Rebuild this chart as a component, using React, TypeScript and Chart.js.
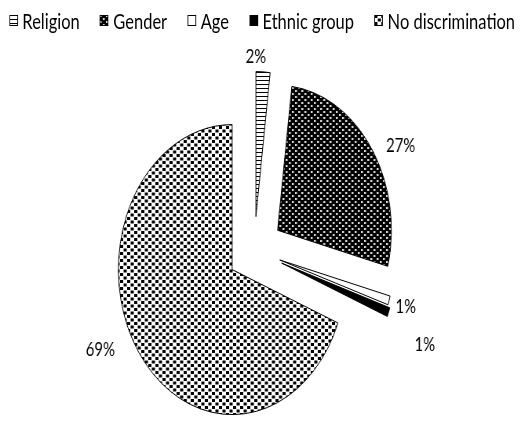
import { useEffect, useRef } from 'react';
import { Chart, registerables } from 'chart.js';

Chart.register(...registerables);

const CATEGORIES = ['Religion', 'Gender', 'Age', 'Ethnic group', 'No discrimination'];
const SHARES = [2, 27, 1, 1, 69];

// the whole figure is drawn on a wider canvas and condensed horizontally to the page width
const DRAW_W = 664;
const DRAW_H = 421;
const SQUEEZE = 521 / DRAW_W;

// how far each slice is pulled away from the pie centre (px)
const EXPLODE = [34, 36, 34, 37, 34];
// data label placement: distance beyond the rim (px) and turn off the slice bisector (deg)
const LABEL_GAP = [15, 33, 22, 55, 41];
const LABEL_TURN = [-3.6, 6, 0, 4.3, 8.8];

const FONT = "Lato, 'Liberation Sans', sans-serif";

type Fill = string | CanvasPattern;

function makePattern(ctx: CanvasRenderingContext2D, w: number, h: number, paint: (g: CanvasRenderingContext2D) => void) {
  const c = document.createElement('canvas');
  c.width = w;
  c.height = h;
  const g = c.getContext('2d') as CanvasRenderingContext2D;
  paint(g);
  return ctx.createPattern(c, 'repeat') as CanvasPattern;
}

// fills in category order: horizontal stripes, dark dotted, white, black, light confetti
function buildFills(ctx: CanvasRenderingContext2D): Fill[] {
  const stripes = makePattern(ctx, 4, 4, (g) => {
    g.fillStyle = '#fff';
    g.fillRect(0, 0, 4, 4);
    g.fillStyle = '#000';
    g.fillRect(0, 0, 4, 1);
  });
  const darkDots = makePattern(ctx, 8, 6, (g) => {
    g.fillStyle = '#000';
    g.fillRect(0, 0, 8, 6);
    g.fillStyle = '#d6d6d6';
    g.fillRect(0, 0, 2.5, 2);
    g.fillRect(4, 3, 2.5, 2);
  });
  const confetti = makePattern(ctx, 9, 7, (g) => {
    g.fillStyle = '#fff';
    g.fillRect(0, 0, 9, 7);
    g.fillStyle = '#000';
    g.fillRect(0, 0, 4, 3);
    g.fillRect(4.5, 3.5, 4, 3);
  });
  return [stripes, darkDots, '#ffffff', '#000000', confetti];
}

// Draws the exploded slices and their percentage labels from the arcs the pie controller laid out.
const explodedPie = {
  id: 'explodedPie',
  beforeDatasetDraw(chart: any, args: any) {
    const ctx: CanvasRenderingContext2D = chart.ctx;
    const arcs = args.meta.data;
    const values: number[] = chart.data.datasets[args.index].data;
    const geo = arcs.map((arc: any, i: number) => {
      const mid = (arc.startAngle + arc.endAngle) / 2;
      return {
        arc,
        mid,
        cx: arc.x + Math.cos(mid) * EXPLODE[i],
        cy: arc.y + Math.sin(mid) * EXPLODE[i],
      };
    });
    geo.forEach(({ arc, cx, cy }: any) => {
      ctx.save();
      ctx.beginPath();
      ctx.moveTo(cx, cy);
      ctx.arc(cx, cy, arc.outerRadius, arc.startAngle, arc.endAngle);
      ctx.closePath();
      ctx.fillStyle = arc.options.backgroundColor;
      ctx.fill();
      ctx.lineWidth = arc.options.borderWidth;
      ctx.strokeStyle = arc.options.borderColor;
      ctx.lineJoin = 'miter';
      ctx.stroke();
      ctx.restore();
    });
    geo.forEach(({ arc, mid, cx, cy }: any, i: number) => {
      const a = mid + (LABEL_TURN[i] * Math.PI) / 180;
      const r = arc.outerRadius + LABEL_GAP[i];
      ctx.save();
      ctx.fillStyle = '#000';
      ctx.font = `19px ${FONT}`;
      ctx.textAlign = 'center';
      ctx.textBaseline = 'middle';
      ctx.fillText(`${values[i]}%`, cx + Math.cos(a) * r, cy + Math.sin(a) * r);
      ctx.restore();
    });
    return false;
  },
};

function Swatch({ index }: { index: number }) {
  const ref = useRef<HTMLCanvasElement | null>(null);
  useEffect(() => {
    const c = ref.current;
    if (!c) return;
    const g = c.getContext('2d') as CanvasRenderingContext2D;
    g.clearRect(0, 0, c.width, c.height);
    g.fillStyle = buildFills(g)[index] as any;
    g.fillRect(0.5, 0.5, 10, 10);
    g.strokeStyle = '#000';
    g.lineWidth = 1;
    g.strokeRect(0.5, 0.5, 10, 10);
  }, [index]);
  return <canvas ref={ref} width={11} height={11} style={{ display: 'block', marginRight: 6 }} />;
}

export default function App() {
  const canvasRef = useRef<HTMLCanvasElement | null>(null);

  useEffect(() => {
    const canvas = canvasRef.current;
    if (!canvas) return;
    const ctx = canvas.getContext('2d') as CanvasRenderingContext2D;
    const chart = new Chart(canvas, {
      type: 'pie',
      data: {
        labels: CATEGORIES,
        datasets: [
          {
            data: SHARES,
            backgroundColor: buildFills(ctx),
            borderColor: '#000000',
            borderWidth: 1,
          },
        ],
      },
      options: {
        responsive: false,
        animation: false,
        events: [],
        radius: 145,
        layout: { padding: { left: 0, right: 16, top: 80, bottom: 0 } },
        plugins: {
          legend: { display: false },
          tooltip: { enabled: false },
        },
      } as any,
      plugins: [explodedPie],
    });
    return () => chart.destroy();
  }, []);

  return (
    <div
      style={{
        position: 'fixed',
        left: 0,
        top: 0,
        width: DRAW_W,
        height: DRAW_H,
        background: '#fff',
        transform: `scaleX(${SQUEEZE})`,
        transformOrigin: '0 0',
      }}
    >
      <div
        style={{
          position: 'absolute',
          left: 11.5,
          top: 8,
          width: 645,
          height: 24,
          display: 'flex',
          justifyContent: 'space-between',
          alignItems: 'center',
          fontFamily: FONT,
          fontSize: 21,
          lineHeight: 1,
          color: '#000',
        }}
      >
        {CATEGORIES.map((name, i) => (
          <div key={name} style={{ display: 'flex', alignItems: 'center', whiteSpace: 'nowrap' }}>
            <Swatch index={i} />
            <span>{name}</span>
          </div>
        ))}
      </div>
      <canvas ref={canvasRef} width={DRAW_W} height={DRAW_H} style={{ display: 'block' }} />
    </div>
  );
}
